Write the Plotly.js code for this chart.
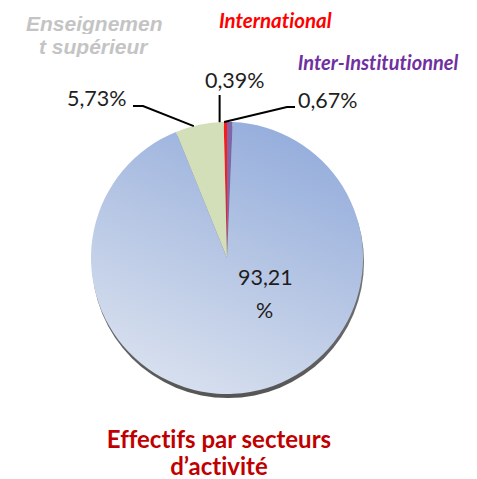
<!DOCTYPE html>
<html>
<head>
<meta charset="utf-8">
<script src="https://cdn.plot.ly/plotly-3.0.1.min.js"></script>
<style>
html,body{margin:0;padding:0;background:#fff;}
#chart{width:477px;height:479px;}
#chart text{font-variant-ligatures:none;font-feature-settings:"liga" 0, "dlig" 0, "clig" 0;}
</style>
</head>
<body>
<div id="chart"></div>
<script>
// ---- data ----
const categories = ['Inter-Institutionnel', 'International', 'Enseignement supérieur', 'Autres'];
const values = [0.67, 0.39, 5.73, 93.21];
const valueLabels = ['0,67%', '0,39%', '5,73%', '93,21'];
const sliceColors = ['#7f64a8', '#ff1a1a', '#d3dfb8', '#b3c4e4'];
const categoryLabelLines = [['Inter-Institutionnel'], ['International'], ['Enseignemen', 't supérieur']];
const categoryColors = ['#7030a0', '#ff0000', '#c4c4c4'];
const titleLines = ['Effectifs par secteurs', 'd\u2019activité'];

// ---- layout geometry ----
const W = 477, H = 479;
const cx = 227, cy = 258, r = 136;
const px = x => x / W;
const py = y => 1 - y / H;

const total = values.reduce((a, b) => a + b, 0);
// mid-angle point on the edge of slice i (counterclockwise from 12 o'clock)
function edgePoint(i) {
  let c = 0;
  for (let k = 0; k < i; k++) c += values[k];
  const m = (c + values[i] / 2) / total;
  const t = 2 * Math.PI * m;
  return [cx - r * Math.sin(t), cy - r * Math.cos(t)];
}

const shadow = {
  type: 'pie',
  values: [total],
  marker: {colors: ['#6b6b6b'], line: {width: 0}},
  sort: false,
  textinfo: 'none',
  hoverinfo: 'skip',
  showlegend: false,
  domain: {x: [px(cx - r + 1), px(cx + r + 1)], y: [py(cy + r + 4), py(cy - r + 4)]}
};

const pie = {
  type: 'pie',
  labels: categories,
  values: values,
  marker: {colors: sliceColors, line: {width: 0}},
  sort: false,
  direction: 'counterclockwise',
  rotation: 0,
  textinfo: 'none',
  hoverinfo: 'label+percent',
  showlegend: false,
  domain: {x: [px(cx - r), px(cx + r)], y: [py(cy + r), py(cy - r)]}
};

const numFont = {family: 'Lato, sans-serif', size: 21.5, color: '#1e1e1e'};
const ann = [];
const shapes = [];
function addText(text, x, y, font, h, yanchor) {
  const a = {text: text, x: px(x), y: py(y), xref: 'paper', yref: 'paper',
    xanchor: 'center', yanchor: yanchor || 'middle', showarrow: false, borderpad: 0, font: font};
  if (h) { a.height = h; a.valign = 'middle'; }
  ann.push(a);
  return ann.length - 1;
}

// value labels
addText(valueLabels[2], 97, 98, numFont);
addText(valueLabels[1], 235, 80, numFont);
addText(valueLabels[0], 328, 100, numFont);
addText(valueLabels[3], 265, 277, numFont);
addText('%', 264, 310, numFont);

// leader lines
function pathOf(pts) {
  return pts.map((p, k) => (k ? 'L ' : 'M ') + px(p[0]) + ' ' + py(p[1])).join(' ');
}
const lineStyle = {color: '#000000', width: 2};
const eG = edgePoint(2), eR = edgePoint(1), eP = edgePoint(0);
shapes.push({type: 'path', xref: 'paper', yref: 'paper', path: pathOf([[133, 106], [143, 106], eG]), line: lineStyle});
shapes.push({type: 'path', xref: 'paper', yref: 'paper', path: pathOf([[eR[0], 95], eR]), line: lineStyle});
shapes.push({type: 'path', xref: 'paper', yref: 'paper', path: pathOf([[295, 107], [287, 107], eP]), line: lineStyle});

// category labels
const ensFont = {family: 'Liberation Sans, Arial, sans-serif', size: 21, color: categoryColors[2], weight: 'bold', style: 'italic'};
addText(categoryLabelLines[2][0], 94, 23, ensFont, 22);
addText(categoryLabelLines[2][1], 94, 46, ensFont, 22);
addText(categoryLabelLines[1][0], 275, 20, {family: 'Lato, sans-serif', size: 20.5, color: categoryColors[1], weight: 'bold', style: 'italic'});
addText(categoryLabelLines[0][0], 378, 62, {family: 'Lato, sans-serif', size: 20, color: categoryColors[0], weight: 'bold', style: 'italic'});

// title (one text, two lines; line gap tightened after render)
const titleFont = {family: 'Lato, sans-serif', size: 24, color: '#c00000', weight: 'bold'};
const titleIdx = addText(titleLines.join('<br>'), 219, 422.5, titleFont, null, 'top');

const layout = {
  width: W, height: H,
  margin: {l: 0, r: 0, t: 0, b: 0},
  paper_bgcolor: '#ffffff',
  showlegend: false,
  annotations: ann,
  shapes: shapes
};

Plotly.newPlot('chart', [shadow, pie], layout, {displayModeBar: false, staticPlot: true}).then(gd => {
  const ns = 'http://www.w3.org/2000/svg';
  const svg = gd.querySelector('svg.main-svg');
  let defs = svg.querySelector('defs');
  if (!defs) { defs = document.createElementNS(ns, 'defs'); svg.insertBefore(defs, svg.firstChild); }
  function grad(id, stops, x1, y1, x2, y2) {
    const g = document.createElementNS(ns, 'linearGradient');
    g.setAttribute('id', id);
    g.setAttribute('x1', x1); g.setAttribute('y1', y1);
    g.setAttribute('x2', x2); g.setAttribute('y2', y2);
    stops.forEach(s => {
      const st = document.createElementNS(ns, 'stop');
      st.setAttribute('offset', s[0]);
      st.setAttribute('stop-color', s[1]);
      g.appendChild(st);
    });
    defs.appendChild(g);
  }
  grad('gBlue', [[0, '#93acdc'], [0.5, '#b6c6e4'], [1, '#d9e1ef']], 0.75, 0, 0.3, 1);
  grad('gShadow', [[0, '#9a9a9a'], [1, '#555555']], 0, 0, 0, 1);
  const traces = gd.querySelectorAll('.pielayer .trace');
  const sp = traces[0].querySelectorAll('path.surface');
  if (sp[0]) sp[0].style.fill = 'url(#gShadow)';
  const p = traces[1].querySelectorAll('path.surface');
  if (p[3]) p[3].style.fill = 'url(#gBlue)';

  // tighten title line spacing
  const annEls = gd.querySelectorAll('.annotation');
  const tEl = annEls[titleIdx];
  if (tEl) {
    const lines = tEl.querySelectorAll('tspan.line');
    if (lines.length === 2) {
      const d0 = parseFloat(lines[0].getAttribute('dy') || '0');
      lines[1].setAttribute('dy', (d0 + 1.12) + 'em');
    }
  }
});
</script>
</body>
</html>
